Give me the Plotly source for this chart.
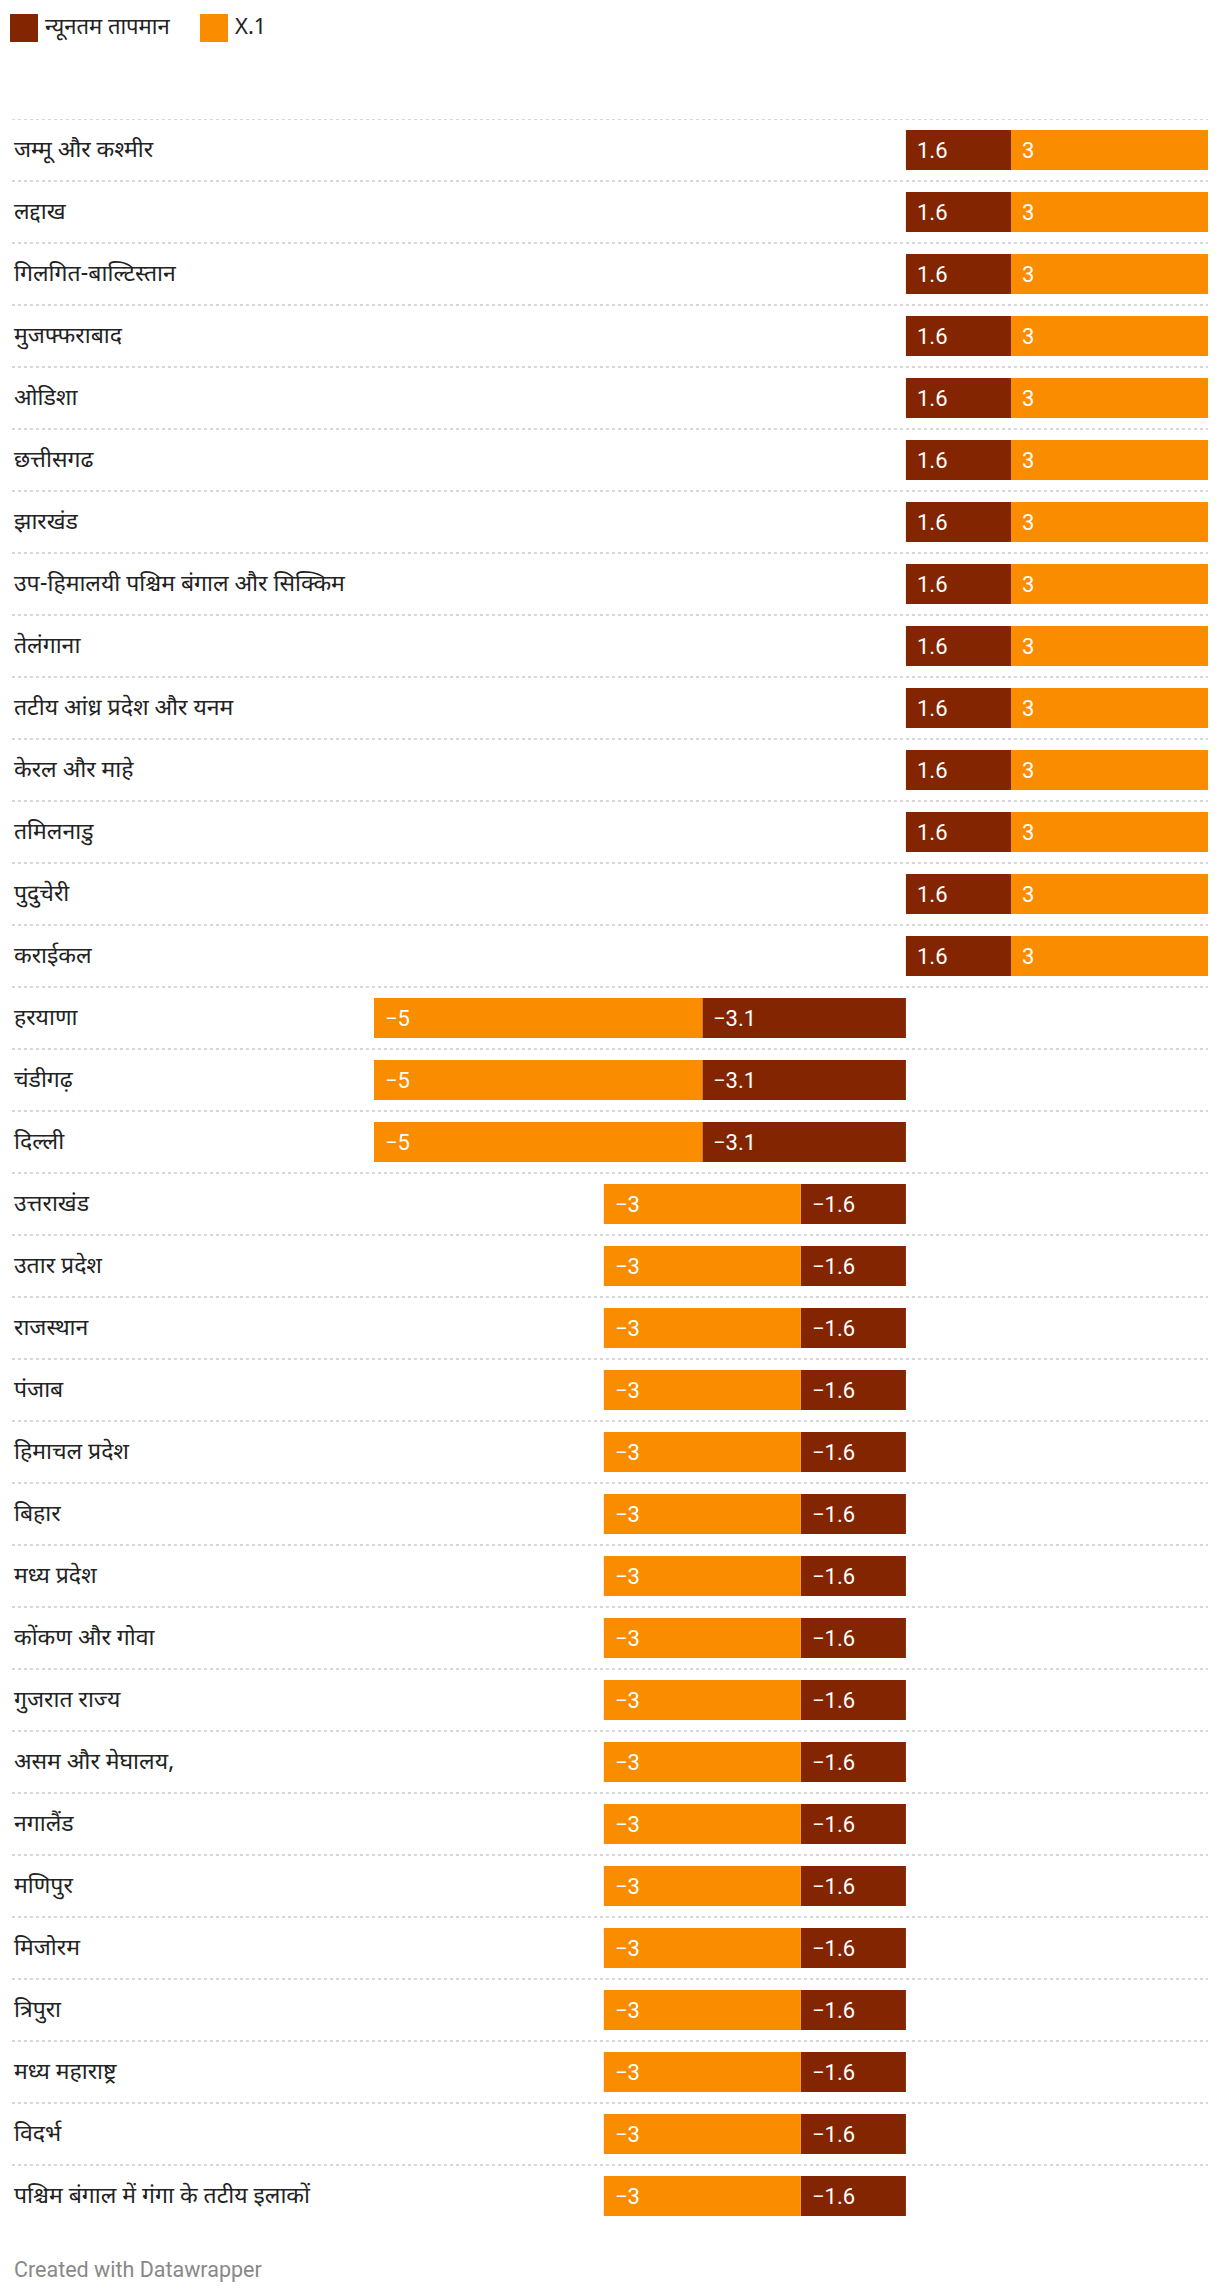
import plotly.graph_objects as go

categories = [
    "जम्मू और कश्मीर", "लद्दाख", "गिलगित-बाल्टिस्तान", "मुजफ्फराबाद", "ओडिशा",
    "छत्तीसगढ", "झारखंड", "उप-हिमालयी पश्चिम बंगाल और सिक्किम", "तेलंगाना",
    "तटीय आंध्र प्रदेश और यनम", "केरल और माहे", "तमिलनाडु", "पुदुचेरी", "कराईकल",
    "हरयाणा", "चंडीगढ़", "दिल्ली", "उत्तराखंड", "उतार प्रदेश", "राजस्थान", "पंजाब",
    "हिमाचल प्रदेश", "बिहार", "मध्य प्रदेश", "कोंकण और गोवा", "गुजरात राज्य",
    "असम और मेघालय,", "नगालैंड", "मणिपुर", "मिजोरम", "त्रिपुरा", "मध्य महाराष्ट्र",
    "विदर्भ", "पश्चिम बंगाल में गंगा के तटीय इलाकों",
]
min_temp = [1.6, 1.6, 1.6, 1.6, 1.6, 1.6, 1.6, 1.6, 1.6, 1.6, 1.6, 1.6, 1.6, 1.6,
            -3.1, -3.1, -3.1,
            -1.6, -1.6, -1.6, -1.6, -1.6, -1.6, -1.6, -1.6, -1.6, -1.6, -1.6, -1.6,
            -1.6, -1.6, -1.6, -1.6, -1.6]
x1 = [3, 3, 3, 3, 3, 3, 3, 3, 3, 3, 3, 3, 3, 3,
      -5, -5, -5,
      -3, -3, -3, -3, -3, -3, -3, -3, -3, -3, -3, -3, -3, -3, -3, -3, -3]
series_names = ["न्यूनतम तापमान", "X.1"]
colors = ["#832500", "#fa8c00"]

W, H = 1220, 2294
OFF = 8  # page body margin
TOP, BOTTOM = 119 - OFF, 2227 - OFF
PLOT_L, PLOT_R = 374 - OFF, 1208 - OFF

DEV = "Noto Sans Devanagari, Noto Sans, Roboto, sans-serif"
NUM = "Roboto, sans-serif"


def py(p):
    return (BOTTOM - (p - OFF)) / (BOTTOM - TOP)


def px(p):
    return (p - OFF) / W


fig = go.Figure()
for name, vals, col in zip(series_names, [min_temp, x1], colors):
    fig.add_trace(go.Bar(
        y=categories, x=vals, orientation="h", name=name,
        marker=dict(color=col, line=dict(width=0)), showlegend=False,
        hoverinfo="skip",
    ))


def fmt(v):
    s = ("%g" % abs(v))
    return ("\u2212" + s) if v < 0 else s


annotations = []
shapes = []
n = len(categories)
for i, cat in enumerate(categories):
    a, b = min_temp[i], x1[i]
    left_a = 0 if a > 0 else a
    left_b = a if b > 0 else a + b
    for left, v in [(left_a, a), (left_b, b)]:
        annotations.append(dict(
            x=left, y=cat, xref="x", yref="y", text=fmt(v), showarrow=False,
            xanchor="left", yanchor="middle", xshift=9,
            font=dict(family=NUM, size=22, color="#ffffff"),
        ))
    annotations.append(dict(
        x=px(12), y=cat, xref="paper", yref="y", text=cat, showarrow=False,
        xanchor="left", yanchor="middle", yshift=-1,
        font=dict(family=DEV, size=23, color="#222222"),
    ))
    shapes.append(dict(
        type="line", xref="paper", yref="y", x0=px(12), x1=px(1208),
        y0=i - 0.5, y1=i - 0.5, line=dict(color="#cccccc", width=1.5, dash="dot"),
        layer="below",
    ))

# legend
leg_items = [(10, 43), (200, 233)]
for (sx, tx), name, col in zip(leg_items, series_names, colors):
    shapes.append(dict(type="rect", xref="paper", yref="paper",
                       x0=px(sx), x1=px(sx + 28), y0=py(42), y1=py(14),
                       fillcolor=col, line=dict(width=0)))
    annotations.append(dict(x=px(tx), y=py(29), xref="paper", yref="paper",
                            text=name, showarrow=False, xanchor="left", yanchor="middle",
                            font=dict(family=DEV, size=22, color="#222222")))

annotations.append(dict(x=px(12), y=py(2269), xref="paper", yref="paper",
                        text="Created with Datawrapper", showarrow=False,
                        xanchor="left", yanchor="middle",
                        font=dict(family=NUM, size=21.5, color="#888888")))

fig.update_layout(
    width=W, height=H,
    margin=dict(l=0, r=0, t=TOP, b=H - BOTTOM, pad=0),
    barmode="relative", bargap=1 - 40 / 62,
    plot_bgcolor="white", paper_bgcolor="white",
    xaxis=dict(domain=[PLOT_L / W, PLOT_R / W], range=[-8.1, 4.6], visible=False,
               fixedrange=True),
    yaxis=dict(autorange=False, range=[n - 0.5, -0.5], visible=False,
               type="category", fixedrange=True),
    annotations=annotations, shapes=shapes,
    showlegend=False,
)

fig.write_html("out.html")
